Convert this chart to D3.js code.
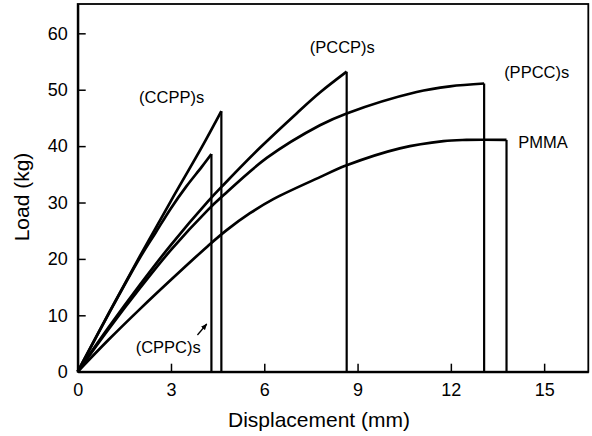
<!DOCTYPE html>
<html>
<head>
<meta charset="utf-8">
<script src="https://cdn.jsdelivr.net/npm/d3@7"></script>
<style>
  body { margin: 0; background: white; }
  text { font-family: "Liberation Sans", Arial, sans-serif; fill: black; }
</style>
</head>
<body>
<svg id="chart" width="592" height="436"></svg>
<script>
// Load vs displacement for each laminate
var ccppX = [0, 1, 2, 3, 4, 4.62];
var ccppY = [0, 10.4, 20.5, 30.3, 39.9, 46.2];

var cppcX = [0, 1, 2, 2.5, 3, 3.5, 4, 4.3];
var cppcY = [0, 10.3, 20.2, 24.6, 29.0, 32.9, 36.4, 38.6];

var pccpX = [0, 1, 2, 3, 4.19, 4.7, 5.86, 7.04, 7.79, 8.65];
var pccpY = [0, 7.9, 15.4, 22.5, 30.2, 33.2, 39.7, 45.8, 49.5, 53.2];

var ppccX = [0, 1, 2, 3, 4.19, 4.63, 6.08, 7.79, 8.65, 10.9, 11.97, 13.07];
var ppccY = [0, 7.6, 14.8, 21.6, 28.7, 31.0, 37.9, 43.7, 45.8, 49.6, 50.6, 51.1];

var pmmaX = [0, 1, 2, 3, 4.19, 4.79, 5.54, 6.29, 7.79, 8.65, 10.36, 11.76, 12.5, 13.79];
var pmmaY = [0, 5.7, 11.1, 16.3, 22.3, 25.1, 28.1, 30.6, 34.5, 36.6, 39.6, 40.9, 41.1, 41.1];

var seriesNames = ["(CCPP)s", "(CPPC)s", "(PCCP)s", "(PPCC)s", "PMMA"];
var xTicks = [0, 3, 6, 9, 12, 15];
var yTicks = [0, 10, 20, 30, 40, 50, 60];

var svg = d3.select("#chart");

// plot area
var x = d3.scaleLinear().domain([0, 16.42]).range([77.7, 588.3]);
var y = d3.scaleLinear().domain([0, 65.2]).range([371.7, 4]);

// frame
svg.append("rect")
    .attr("x", x(0)).attr("y", y(65.2))
    .attr("width", x(16.42) - x(0)).attr("height", y(0) - y(65.2))
    .attr("fill", "none").attr("stroke", "black").attr("stroke-width", 1.8);

// axes, ticks pointing inward
var xAxis = svg.append("g")
    .attr("transform", "translate(0," + y(0) + ")")
    .call(d3.axisBottom(x).tickValues(xTicks).tickSizeInner(-8).tickSizeOuter(0).tickPadding(11.5));
var yAxis = svg.append("g")
    .attr("transform", "translate(" + x(0) + ",0)")
    .call(d3.axisLeft(y).tickValues(yTicks).tickSizeInner(-8).tickSizeOuter(0).tickPadding(10));

[xAxis, yAxis].forEach(function(a) {
    a.select(".domain").attr("stroke", "black").attr("stroke-width", 2.2);
    a.selectAll(".tick line").attr("stroke", "black").attr("stroke-width", 1.5);
    a.selectAll(".tick text").style("font-size", "18px").attr("fill", "black");
});

// axis titles
svg.append("text")
    .attr("x", 319).attr("y", 426.5)
    .attr("text-anchor", "middle")
    .style("font-size", "21px")
    .text("Displacement (mm)");
svg.append("text")
    .attr("transform", "translate(28.5,197) rotate(-90)")
    .attr("text-anchor", "middle")
    .style("font-size", "21px")
    .text("Load (kg)");

// curves
var line = d3.line()
    .x(function(d) { return x(d[0]); })
    .y(function(d) { return y(d[1]); })
    .curve(d3.curveCatmullRom.alpha(0.5));

var series = [
    [ccppX, ccppY],
    [cppcX, cppcY],
    [pccpX, pccpY],
    [ppccX, ppccY],
    [pmmaX, pmmaY]
];

series.forEach(function(s) {
    var pts = s[0].map(function(v, i) { return [v, s[1][i]]; });
    var last = pts[pts.length - 1];
    svg.append("path")
        .attr("d", line(pts))
        .attr("fill", "none")
        .attr("stroke", "black")
        .attr("stroke-width", 2.7)
        .attr("stroke-linejoin", "round");
    // sudden failure: load drops straight to zero
    svg.append("line")
        .attr("x1", x(last[0])).attr("y1", y(last[1]))
        .attr("x2", x(last[0])).attr("y2", y(0))
        .attr("stroke", "black")
        .attr("stroke-width", 2.2);
});

// labels, placed in data units
var labelPos = [
    { x: 3.02, y: 47.7, anchor: "middle" },
    { x: 2.91, y: 3.26, anchor: "middle" },
    { x: 8.51, y: 56.6, anchor: "middle" },
    { x: 14.76, y: 52.1, anchor: "middle" },
    { x: 14.17, y: 39.7, anchor: "start" }
];

seriesNames.forEach(function(name, i) {
    svg.append("text")
        .attr("x", x(labelPos[i].x)).attr("y", y(labelPos[i].y))
        .attr("text-anchor", labelPos[i].anchor)
        .style("font-size", "16.5px")
        .text(name);
});

// small arrow from the (CPPC)s label
svg.append("defs").append("marker")
    .attr("id", "arrow")
    .attr("viewBox", "0 0 10 10")
    .attr("refX", 9).attr("refY", 5)
    .attr("markerWidth", 5).attr("markerHeight", 5)
    .attr("orient", "auto")
    .append("path")
    .attr("d", "M0,1L10,5L0,9Z")
    .attr("fill", "black");

svg.append("line")
    .attr("x1", x(3.85)).attr("y1", y(6.5))
    .attr("x2", x(4.15)).attr("y2", y(8.46))
    .attr("stroke", "black")
    .attr("stroke-width", 1.3)
    .attr("marker-end", "url(#arrow)");
</script>
</body>
</html>
